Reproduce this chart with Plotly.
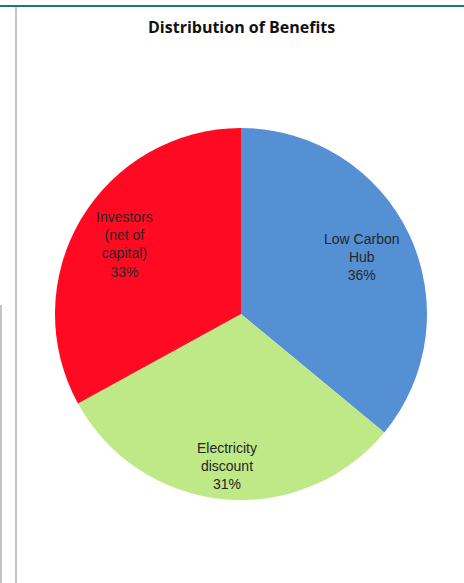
import math
import plotly.graph_objects as go

# ---- data ----
labels = ["Low Carbon<br>Hub", "Electricity<br>discount", "Investors<br>(net of<br>capital)"]
values = [36, 31, 33]
colors = ["#5590D4", "#BFE887", "#FF0A22"]
title_text = "Distribution of Benefits"

# ---- layout geometry (pixels) ----
W, H = 464, 583
cx_px, cy_px, r_px = 241, 314, 186
label_radius_frac = [0.72, 0.82, 0.73]  # radial placement of each label

fig = go.Figure()
fig.add_trace(go.Pie(
    labels=labels,
    values=values,
    sort=False,
    direction="clockwise",
    rotation=0,
    marker=dict(colors=colors, line=dict(width=0)),
    textinfo="none",
    hoverinfo="label+percent",
    showlegend=False,
    domain=dict(x=[(cx_px - r_px) / W, (cx_px + r_px) / W],
                y=[1 - (cy_px + r_px) / H, 1 - (cy_px - r_px) / H]),
))

# labels placed along each slice's bisector, computed from the data
total = sum(values)
cum = 0
annotations = []
for lab, v, fr in zip(labels, values, label_radius_frac):
    mid = (cum + v / 2) / total * 2 * math.pi
    cum += v
    px = cx_px + fr * r_px * math.sin(mid)
    py = cy_px - fr * r_px * math.cos(mid)
    pct = round(v / total * 100)
    annotations.append(dict(
        x=px / W, y=1 - py / H, xref="paper", yref="paper",
        text=f"{lab}<br>{pct}%", showarrow=False,
        font=dict(family="Liberation Sans, Arial", size=14, color="#262626"),
        align="center", xanchor="center", yanchor="middle",
    ))

annotations.append(dict(
    x=241 / W, y=1 - 27 / H, xref="paper", yref="paper",
    text=f"<b>{title_text}</b>", showarrow=False,
    font=dict(family="Open Sans, Liberation Sans", size=16, color="#111111"),
    xanchor="center", yanchor="middle",
))

shapes = [
    dict(type="line", xref="paper", yref="paper", x0=0, x1=1,
         y0=1 - 6 / H, y1=1 - 6 / H, line=dict(color="#177A77", width=2)),
    dict(type="line", xref="paper", yref="paper", x0=16 / W, x1=16 / W,
         y0=0, y1=1 - 7 / H, line=dict(color="#C4C4C4", width=2)),
    dict(type="line", xref="paper", yref="paper", x0=1 / W, x1=1 / W,
         y0=0, y1=1 - 305 / H, line=dict(color="#C4C4C4", width=2)),
]

fig.update_layout(
    width=W, height=H,
    margin=dict(l=0, r=0, t=0, b=0),
    paper_bgcolor="white", plot_bgcolor="white",
    annotations=annotations, shapes=shapes,
)

fig.write_html("out.html")
